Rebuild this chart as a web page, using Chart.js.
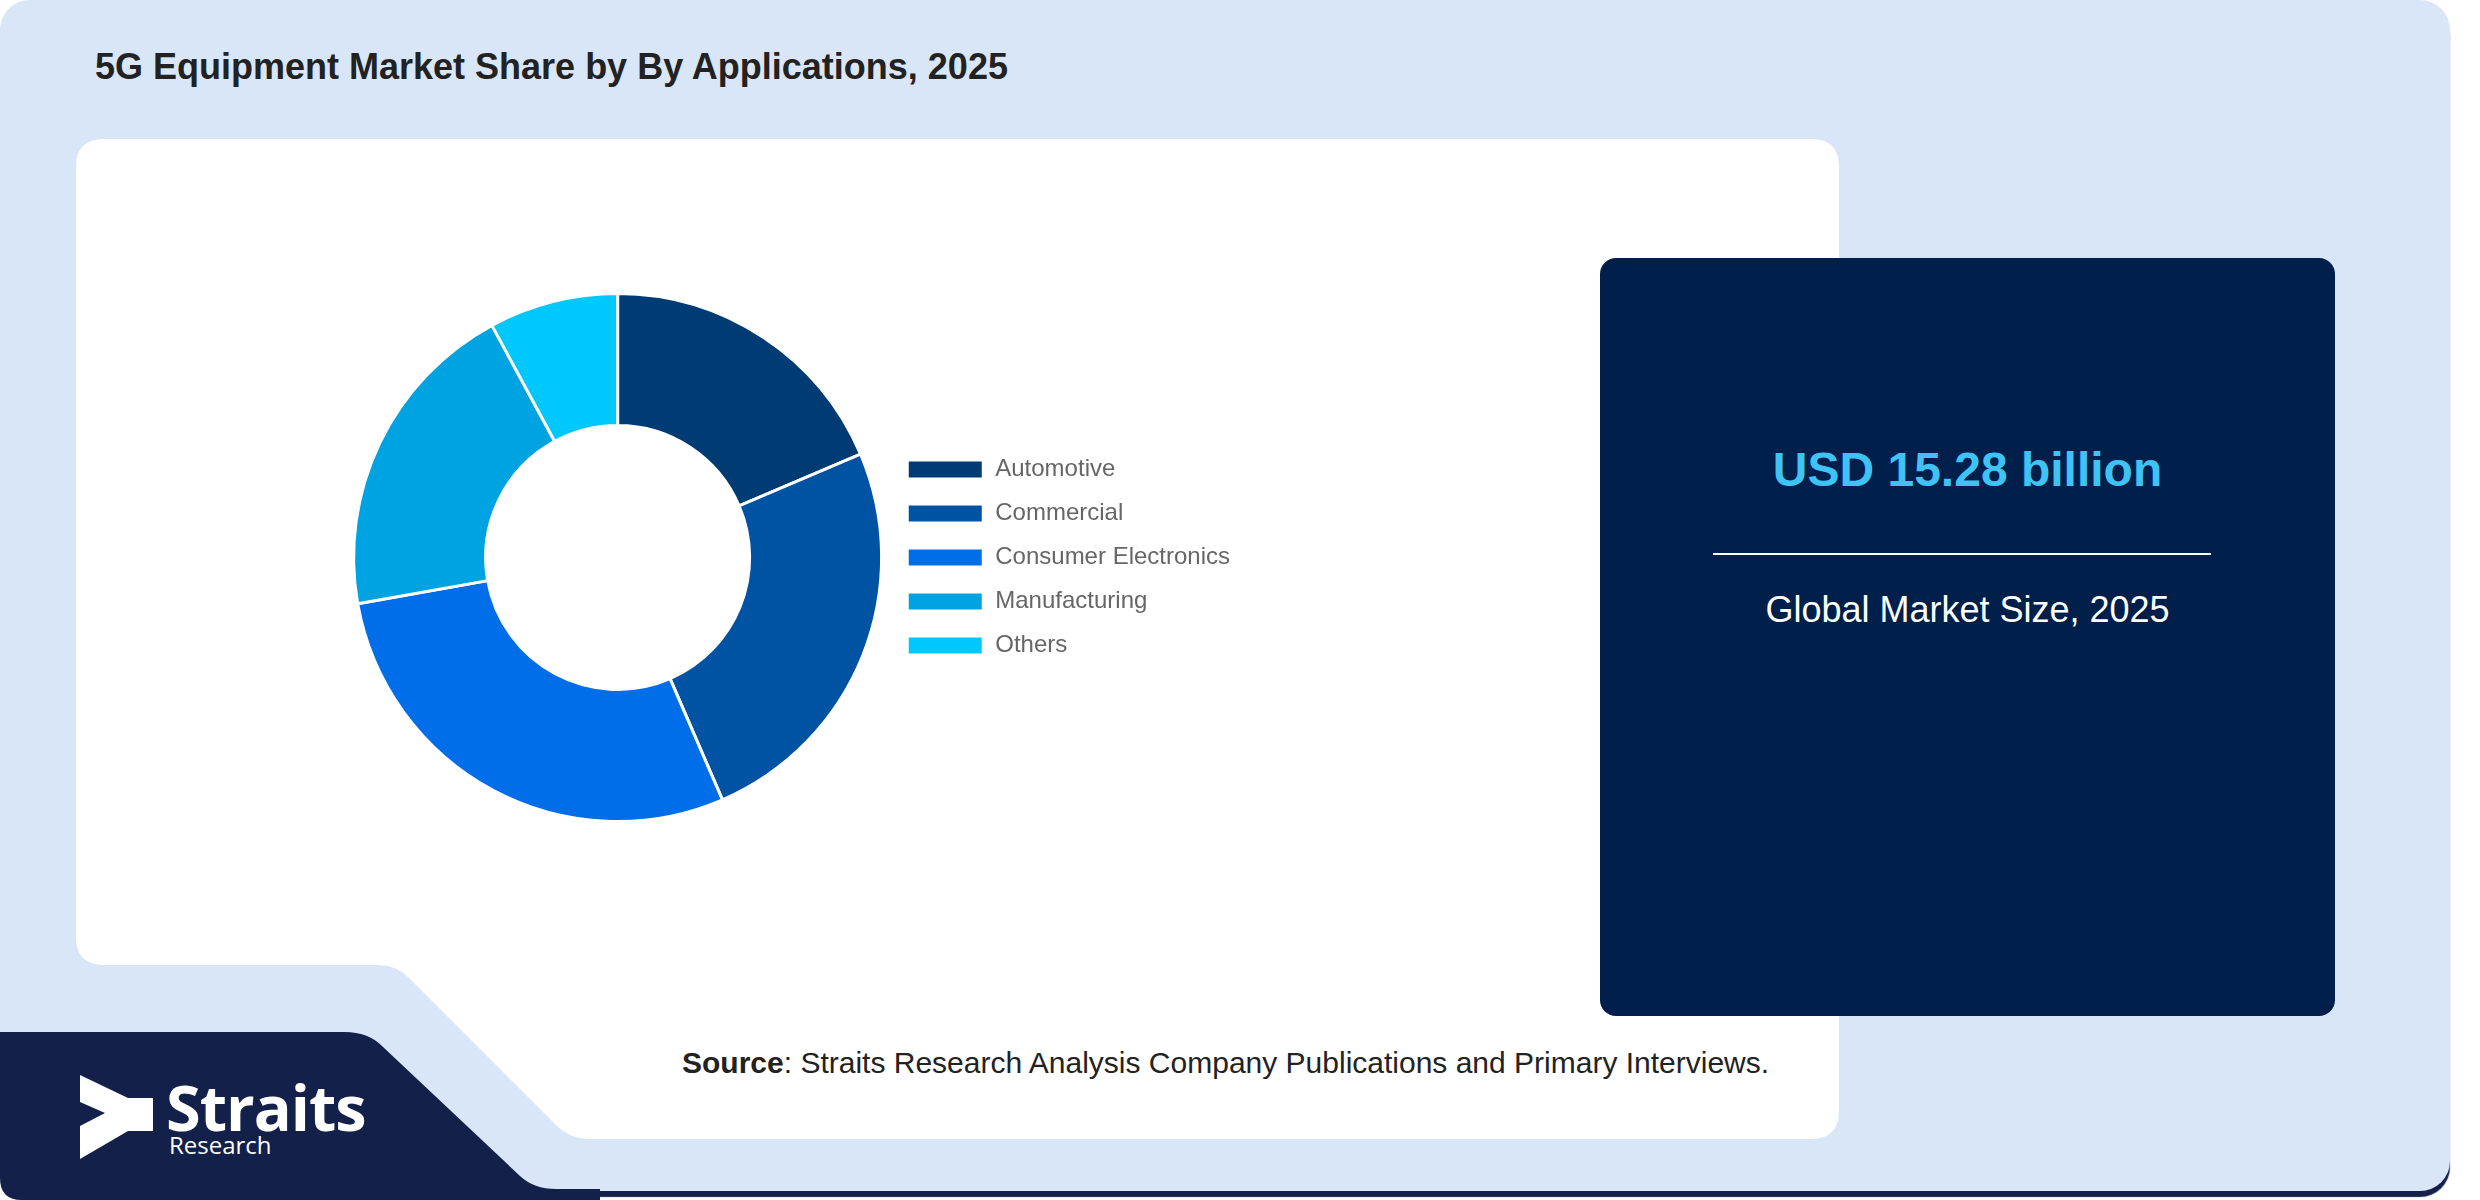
<!DOCTYPE html>
<html>
<head>
  <title>5G Equipment Market Share by Applications</title>
  <script src="https://cdn.jsdelivr.net/npm/chart.js"></script>
  <style>
    body { margin: 0; width: 2480px; height: 1200px; background: #fff; overflow: hidden; position: relative; font-family: "Liberation Sans", Arial, sans-serif; }
    #card { position: absolute; left: 0; top: 0; width: 2450px; height: 1191px; background: #d9e6f8; border-radius: 30px; box-shadow: 0 6px 1px #14204a; }
    #shapes { position: absolute; left: 0; top: 0; }
    #title { position: absolute; left: 95px; top: 47px; font-size: 36px; line-height: 40px; font-weight: bold; color: #222; }
    #chartBox { position: absolute; left: 348px; top: 292px; width: 892px; height: 531px; }
    #panel { position: absolute; left: 1600px; top: 258px; width: 735px; height: 758px; background: #001f4a; border-radius: 16px; }
    #size { position: absolute; left: 0; width: 100%; top: 184px; text-align: center; font-size: 48px; line-height: 56px; font-weight: bold; color: #3ec3f4; }
    #rule { position: absolute; left: 113px; width: 498px; top: 295px; height: 2px; background: #fff; }
    #sizeLabel { position: absolute; left: 0; width: 100%; top: 330px; text-align: center; font-size: 36px; line-height: 44px; color: #fff; }
    #source { position: absolute; left: 682px; top: 1045px; font-size: 30px; line-height: 36px; color: #222; }
    .brand { position: absolute; color: #fff; font-family: "Open Sans", sans-serif; }
    #brand1 { left: 166px; top: 1081px; font-size: 63px; line-height: 52px; font-weight: bold; letter-spacing: -1px; }
    #brand2 { left: 169px; top: 1133px; font-size: 24px; line-height: 24px; }
  </style>
</head>
<body>
  <div id="card"></div>
  <svg id="shapes" width="2480" height="1200">
    <path d="M 104,139 H 1811 Q 1839,139 1839,167 V 1111 Q 1839,1139 1811,1139 H 590 Q 570,1139 556,1125 L 408,977 Q 396,965 378,965 H 104 Q 76,965 76,937 V 167 Q 76,139 104,139 Z" fill="#fff"/>
    <path d="M 0,1032 H 345 Q 368,1032 382,1046 L 520,1176 Q 534,1189 556,1189 H 600 V 1200 H 22 Q 0,1200 0,1178 Z" fill="#13204a"/>
    <polygon points="80,1075 128,1098 153,1098 153,1131 128,1131 80,1159 80,1126 105,1113 80,1102" fill="#fff"/>
  </svg>

  <div id="title">5G Equipment Market Share by By Applications, 2025</div>

  <div id="chartBox"><canvas id="shareChart" width="892" height="531"></canvas></div>

  <div id="panel">
    <div id="size">USD 15.28 billion</div>
    <div id="rule"></div>
    <div id="sizeLabel">Global Market Size, 2025</div>
  </div>

  <div id="source"><b>Source</b>: Straits Research Analysis Company Publications and Primary Interviews.</div>

  <div class="brand" id="brand1">Straits</div>
  <div class="brand" id="brand2">Research</div>

  <script>
    // segments (share in %)
    const categories = ['Automotive', 'Commercial', 'Consumer Electronics', 'Manufacturing', 'Others'];
    const shares = [18.6, 24.9, 28.7, 19.9, 7.9];
    const sliceColors = ['#003b73', '#0052a3', '#006ee8', '#00a3e1', '#00c8fc'];

    new Chart(document.getElementById('shareChart'), {
      type: 'doughnut',
      data: {
        labels: categories,
        datasets: [{
          data: shares,
          backgroundColor: sliceColors,
          borderColor: '#fff',
          borderWidth: 3,
          hoverOffset: 0
        }]
      },
      options: {
        responsive: false,
        devicePixelRatio: 1,
        animation: false,
        cutout: '50%',
        layout: { padding: 0 },
        plugins: {
          legend: {
            position: 'right',
            labels: {
              boxWidth: 76,
              boxHeight: 19,
              padding: 20,
              color: '#666',
              font: { size: 24, family: "'Liberation Sans', Arial, sans-serif" }
            }
          },
          tooltip: { enabled: false }
        }
      }
    });
  </script>
</body>
</html>
